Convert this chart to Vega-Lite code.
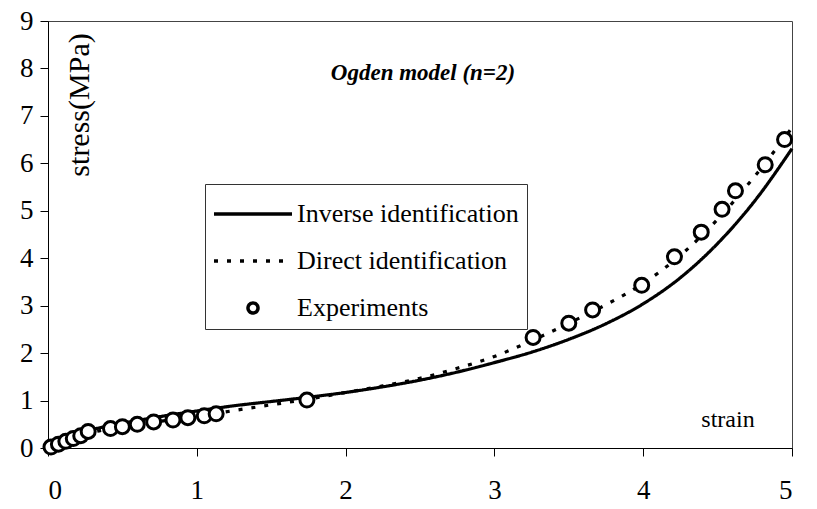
{
  "$schema": "https://vega.github.io/schema/vega-lite/v6.json",
  "width": 744,
  "height": 427,
  "autosize": {"type": "none"},
  "padding": {"left": 48, "top": 21, "right": 25, "bottom": 61},
  "background": "white",
  "config": {
    "view": {"stroke": "#444", "strokeWidth": 1},
    "font": "Liberation Serif",
    "axis": {
      "labelFont": "Liberation Serif",
      "labelFontSize": 27,
      "labelColor": "black",
      "domainColor": "black",
      "tickColor": "black",
      "tickSize": 8,
      "grid": false,
      "title": null
    },
    "legend": {
      "labelFont": "Liberation Serif",
      "labelFontSize": 26,
      "labelColor": "black",
      "labelLimit": 500,
      "symbolStrokeWidth": 3.5
    }
  },
  "datasets": {
    "curves": [
      {"strain": 0, "stress": 0, "series": "Inverse identification"},
      {"strain": 0.05, "stress": 0.1, "series": "Inverse identification"},
      {"strain": 0.1, "stress": 0.18, "series": "Inverse identification"},
      {"strain": 0.2, "stress": 0.3, "series": "Inverse identification"},
      {"strain": 0.3, "stress": 0.39, "series": "Inverse identification"},
      {"strain": 0.5, "stress": 0.52, "series": "Inverse identification"},
      {"strain": 0.75, "stress": 0.66, "series": "Inverse identification"},
      {"strain": 1.0, "stress": 0.78, "series": "Inverse identification"},
      {"strain": 1.25, "stress": 0.89, "series": "Inverse identification"},
      {"strain": 1.5, "stress": 0.98, "series": "Inverse identification"},
      {"strain": 1.75, "stress": 1.07, "series": "Inverse identification"},
      {"strain": 2.0, "stress": 1.17, "series": "Inverse identification"},
      {"strain": 2.25, "stress": 1.29, "series": "Inverse identification"},
      {"strain": 2.5, "stress": 1.43, "series": "Inverse identification"},
      {"strain": 2.75, "stress": 1.6, "series": "Inverse identification"},
      {"strain": 3.0, "stress": 1.8, "series": "Inverse identification"},
      {"strain": 3.25, "stress": 2.02, "series": "Inverse identification"},
      {"strain": 3.5, "stress": 2.29, "series": "Inverse identification"},
      {"strain": 3.75, "stress": 2.62, "series": "Inverse identification"},
      {"strain": 4.0, "stress": 3.04, "series": "Inverse identification"},
      {"strain": 4.25, "stress": 3.59, "series": "Inverse identification"},
      {"strain": 4.5, "stress": 4.31, "series": "Inverse identification"},
      {"strain": 4.75, "stress": 5.21, "series": "Inverse identification"},
      {"strain": 5.0, "stress": 6.31, "series": "Inverse identification"},
      {"strain": 0, "stress": 0, "series": "Direct identification"},
      {"strain": 0.05, "stress": 0.06, "series": "Direct identification"},
      {"strain": 0.1, "stress": 0.12, "series": "Direct identification"},
      {"strain": 0.2, "stress": 0.23, "series": "Direct identification"},
      {"strain": 0.3, "stress": 0.33, "series": "Direct identification"},
      {"strain": 0.5, "stress": 0.45, "series": "Direct identification"},
      {"strain": 0.75, "stress": 0.56, "series": "Direct identification"},
      {"strain": 1.0, "stress": 0.66, "series": "Direct identification"},
      {"strain": 1.25, "stress": 0.79, "series": "Direct identification"},
      {"strain": 1.5, "stress": 0.91, "series": "Direct identification"},
      {"strain": 1.75, "stress": 1.03, "series": "Direct identification"},
      {"strain": 2.0, "stress": 1.17, "series": "Direct identification"},
      {"strain": 2.25, "stress": 1.31, "series": "Direct identification"},
      {"strain": 2.5, "stress": 1.47, "series": "Direct identification"},
      {"strain": 2.75, "stress": 1.68, "series": "Direct identification"},
      {"strain": 3.0, "stress": 1.93, "series": "Direct identification"},
      {"strain": 3.25, "stress": 2.26, "series": "Direct identification"},
      {"strain": 3.5, "stress": 2.63, "series": "Direct identification"},
      {"strain": 3.75, "stress": 3.02, "series": "Direct identification"},
      {"strain": 4.0, "stress": 3.47, "series": "Direct identification"},
      {"strain": 4.25, "stress": 4.06, "series": "Direct identification"},
      {"strain": 4.5, "stress": 4.82, "series": "Direct identification"},
      {"strain": 4.75, "stress": 5.73, "series": "Direct identification"},
      {"strain": 5.0, "stress": 6.75, "series": "Direct identification"}
    ],
    "experiments": [
      {"strain": 0.02, "stress": 0.02, "series": "Experiments"},
      {"strain": 0.07, "stress": 0.08, "series": "Experiments"},
      {"strain": 0.12, "stress": 0.14, "series": "Experiments"},
      {"strain": 0.17, "stress": 0.2, "series": "Experiments"},
      {"strain": 0.22, "stress": 0.26, "series": "Experiments"},
      {"strain": 0.27, "stress": 0.35, "series": "Experiments"},
      {"strain": 0.42, "stress": 0.41, "series": "Experiments"},
      {"strain": 0.5, "stress": 0.45, "series": "Experiments"},
      {"strain": 0.6, "stress": 0.5, "series": "Experiments"},
      {"strain": 0.71, "stress": 0.55, "series": "Experiments"},
      {"strain": 0.84, "stress": 0.59, "series": "Experiments"},
      {"strain": 0.94, "stress": 0.64, "series": "Experiments"},
      {"strain": 1.05, "stress": 0.68, "series": "Experiments"},
      {"strain": 1.13, "stress": 0.72, "series": "Experiments"},
      {"strain": 1.74, "stress": 1.01, "series": "Experiments"},
      {"strain": 3.26, "stress": 2.33, "series": "Experiments"},
      {"strain": 3.5, "stress": 2.63, "series": "Experiments"},
      {"strain": 3.66, "stress": 2.91, "series": "Experiments"},
      {"strain": 3.99, "stress": 3.43, "series": "Experiments"},
      {"strain": 4.21, "stress": 4.03, "series": "Experiments"},
      {"strain": 4.39, "stress": 4.55, "series": "Experiments"},
      {"strain": 4.53, "stress": 5.03, "series": "Experiments"},
      {"strain": 4.62, "stress": 5.42, "series": "Experiments"},
      {"strain": 4.82, "stress": 5.97, "series": "Experiments"},
      {"strain": 4.95, "stress": 6.5, "series": "Experiments"}
    ]
  },
  "layer": [
    {
      "data": {"name": "curves"},
      "mark": {"type": "line", "color": "black", "strokeWidth": 3.2, "interpolate": "monotone"},
      "encoding": {
        "x": {
          "field": "strain", "type": "quantitative",
          "scale": {"domain": [0, 5], "nice": false},
          "axis": {"values": [0, 1, 2, 3, 4, 5], "format": "d", "labelPadding": 21, "title": null}
        },
        "y": {
          "field": "stress", "type": "quantitative",
          "scale": {"domain": [0, 9], "nice": false},
          "axis": {"values": [0, 1, 2, 3, 4, 5, 6, 7, 8, 9], "format": "d", "labelPadding": 7, "title": null}
        },
        "detail": {"field": "series"},
        "strokeDash": {
          "field": "series", "type": "nominal",
          "scale": {
            "domain": ["Inverse identification", "Direct identification", "Experiments"],
            "range": [[1, 0], [4, 9], [1, 0]]
          },
          "legend": {
            "title": null,
            "orient": "none",
            "legendX": 157,
            "legendY": 163,
            "strokeColor": "#333",
            "padding": 8,
            "symbolSize": 1600,
            "symbolOffset": 18,
            "labelOffset": 22,
            "rowPadding": 12,
            "symbolStrokeWidth": 3.5,
            "encode": {"symbols": {"update": {"stroke": {"value": "black"}, "strokeWidth": {"value": 3.5}, "fill": {"value": "transparent"}, "opacity": {"value": 1}}}}
          }
        }
      }
    },
    {
      "data": {"name": "experiments"},
      "mark": {"type": "point", "filled": false, "fill": "white", "stroke": "black", "strokeWidth": 3, "size": 3136, "opacity": 1},
      "encoding": {
        "x": {"field": "strain", "type": "quantitative"},
        "y": {"field": "stress", "type": "quantitative"},
        "shape": {
          "field": "series", "type": "nominal",
          "scale": {
            "domain": ["Inverse identification", "Direct identification", "Experiments"],
            "range": ["M-1.95,0L1.95,0", "M-1.95,0L1.95,0", "M0.25,0A0.25,0.25 0 1,1 -0.25,0A0.25,0.25 0 1,1 0.25,0Z"]
          },
          "legend": {
            "title": null,
            "orient": "none",
            "legendX": 157,
            "legendY": 163,
            "strokeColor": "#333",
            "padding": 8,
            "symbolSize": 1600,
            "symbolOffset": 18,
            "labelOffset": 22,
            "rowPadding": 12,
            "symbolStrokeWidth": 3.5,
            "encode": {"symbols": {"update": {"stroke": {"value": "black"}, "strokeWidth": {"value": 3.5}, "fill": {"value": "transparent"}, "opacity": {"value": 1}}}}
          }
        }
      }
    },
    {
      "data": {"values": [{"label": "Ogden model (n=2)"}]},
      "mark": {"type": "text", "font": "Liberation Serif", "fontSize": 23, "fontStyle": "italic", "fontWeight": "bold", "align": "center", "baseline": "middle", "color": "black"},
      "encoding": {
        "x": {"datum": 2.52},
        "y": {"datum": 7.9},
        "text": {"field": "label"}
      }
    },
    {
      "data": {"values": [{"label": "stress(MPa)"}]},
      "mark": {"type": "text", "font": "Liberation Serif", "fontSize": 30, "angle": 270, "align": "center", "baseline": "middle", "color": "black"},
      "encoding": {
        "x": {"datum": 0.215},
        "y": {"datum": 7.23},
        "text": {"field": "label"}
      }
    },
    {
      "data": {"values": [{"label": "strain"}]},
      "mark": {"type": "text", "font": "Liberation Serif", "fontSize": 24, "align": "center", "baseline": "middle", "color": "black"},
      "encoding": {
        "x": {"datum": 4.57},
        "y": {"datum": 0.59},
        "text": {"field": "label"}
      }
    }
  ]
}
